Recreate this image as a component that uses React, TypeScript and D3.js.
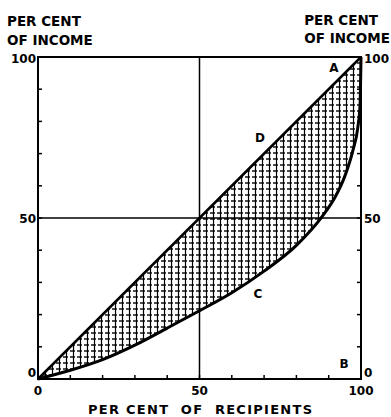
import React from 'react';
import * as d3 from 'd3';

// Lorenz curve (per cent of recipients -> per cent of income)
const recipients = [0, 10, 20, 30, 40, 50, 60, 70, 80, 88, 92, 95, 97.5, 99, 99.7, 100];
const income = [0, 2.7, 6, 10.5, 15.8, 21.2, 26.8, 33.5, 41.5, 50.5, 56.5, 63, 71, 78, 85, 100];
const equality = [0, 100];
const tickValues = [0, 10, 20, 30, 40, 50, 60, 70, 80, 90, 100];
const axisLabels = [0, 50, 100];

const W = 391;
const H = 417;
const FONT = "'DejaVu Sans', sans-serif";

const App = () => {
  const x = d3.scaleLinear().domain([0, 100]).range([38, 361]);
  const y = d3.scaleLinear().domain([0, 100]).range([379, 57]);

  const curvePts: [number, number][] = recipients.map((r, i) => [r, income[i]]);
  const line = d3.line<[number, number]>()
    .x(d => x(d[0]))
    .y(d => y(d[1]))
    .curve(d3.curveMonotoneX);

  const curvePath = line(curvePts) || '';
  const diagPath = line(equality.map(v => [v, v] as [number, number])) || '';

  // area between the diagonal (top) and the Lorenz curve
  const area = d3.area<[number, number]>()
    .x(d => x(d[0]))
    .y0(d => y(d[1]))
    .y1(d => y(d[0]))
    .curve(d3.curveMonotoneX);
  const areaPath = area(curvePts) || '';

  const txt = {
    fontFamily: FONT,
    fontWeight: 'bold' as const,
    fill: '#000',
  };

  // vertical label position on the side axes
  const sideY = (v: number) => (v === 0 ? y(0) - 2 : v === 100 ? y(100) + 6 : y(v) + 5);

  return (
    <svg width={W} height={H} style={{ position: 'absolute', left: 0, top: 0, background: '#fff' }}>
      <defs>
        <pattern id="hatch" width="7" height="6" patternUnits="userSpaceOnUse">
          <rect width="7" height="6" fill="#fff" />
          <line x1="0" y1="3" x2="7" y2="3" stroke="#000" strokeWidth="1.4" strokeDasharray="5 2" />
          <line x1="3.5" y1="0" x2="3.5" y2="6" stroke="#000" strokeWidth="1.2" />
        </pattern>
      </defs>

      <path d={areaPath} fill="url(#hatch)" stroke="none" />

      {/* 50 per cent guides */}
      <line x1={x(50)} x2={x(50)} y1={y(0)} y2={y(100)} stroke="#000" strokeWidth={1.5} />
      <line x1={x(0)} x2={x(100)} y1={y(50)} y2={y(50)} stroke="#000" strokeWidth={1.5} />

      {/* frame */}
      <rect x={x(0)} y={y(100)} width={x(100) - x(0)} height={y(0) - y(100)}
        fill="none" stroke="#000" strokeWidth={2} />

      {/* inward ticks */}
      {tickValues.map(t => (
        <g key={t}>
          <line x1={x(0)} x2={x(0) + 4} y1={y(t)} y2={y(t)} stroke="#000" strokeWidth={1.5} />
          <line x1={x(100)} x2={x(100) - 4} y1={y(t)} y2={y(t)} stroke="#000" strokeWidth={1.5} />
          <line x1={x(t)} x2={x(t)} y1={y(0)} y2={y(0) - 4} stroke="#000" strokeWidth={1.5} />
        </g>
      ))}

      <path d={diagPath} fill="none" stroke="#000" strokeWidth={2.5} />
      <path d={curvePath} fill="none" stroke="#000" strokeWidth={3} />

      {/* axis numbers */}
      {axisLabels.map(v => (
        <g key={v}>
          <text {...txt} fontSize={12} x={x(0) - 2} y={sideY(v)} textAnchor="end">{v}</text>
          <text {...txt} fontSize={12} x={x(100) + 3} y={sideY(v)} textAnchor="start">{v}</text>
          <text {...txt} fontSize={12} x={x(v)} y={395} textAnchor="middle">{v}</text>
        </g>
      ))}

      {/* axis titles */}
      <text {...txt} fontSize={13.5} x={7} y={26}>PER CENT</text>
      <text {...txt} fontSize={13.5} x={7} y={45}>OF INCOME</text>
      <text {...txt} fontSize={13.5} x={378} y={25} textAnchor="end">PER CENT</text>
      <text {...txt} fontSize={13.5} x={390} y={43} textAnchor="end">OF INCOME</text>
      <text {...txt} fontSize={13} x={88} y={414} textLength={224} lengthAdjust="spacing"
        style={{ whiteSpace: 'pre' }}>
        PER CENT  OF  RECIPIENTS
      </text>

      {/* point letters */}
      <text {...txt} fontSize={12} x={334} y={72} textAnchor="middle">A</text>
      <text {...txt} fontSize={12} x={344} y={368} textAnchor="middle">B</text>
      <text {...txt} fontSize={12} x={258} y={298} textAnchor="middle">C</text>
      <text {...txt} fontSize={12} x={260} y={142} textAnchor="middle">D</text>
    </svg>
  );
};

export default App;
